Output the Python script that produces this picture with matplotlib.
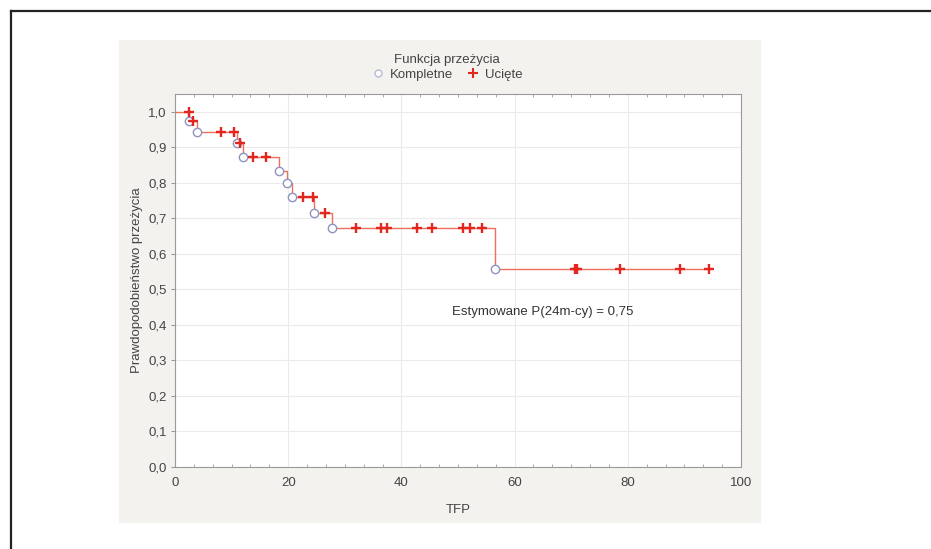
import numpy as np
import matplotlib
matplotlib.use("Agg")
import matplotlib.pyplot as plt
from matplotlib.lines import Line2D
from matplotlib.patches import Rectangle
from matplotlib.ticker import MultipleLocator, FuncFormatter

plt.rcParams['font.family'] = ['Liberation Sans', 'DejaVu Sans']

# Kaplan-Meier: zdarzenia (kompletne) i obserwacje ucięte
event_t = [2.5, 3.8, 10.9, 12.1, 18.4, 19.7, 20.7, 24.6, 27.7, 56.5]
event_s = [0.973, 0.942, 0.912, 0.874, 0.834, 0.799, 0.761, 0.716, 0.674, 0.558]
cens_t = [2.5, 3.2, 8.2, 10.5, 11.4, 13.7, 16.1, 22.7, 24.3, 26.5, 31.9,
          36.4, 37.5, 42.7, 45.4, 50.9, 52.2, 54.2, 70.6, 71.0, 78.6, 89.2, 94.3]

title = "Funkcja przeżycia"
ylab = "Prawdopodobieństwo przeżycia"
xlab = "TFP"
note = "Estymowane P(24m-cy) = 0,75"

line_col = "#ef6f5c"
plus_col = "#e3261e"
circ_col = "#8f93bf"

fig = plt.figure(figsize=(9.31, 5.49), dpi=100)

# grey panel behind the chart
fig.patches.append(Rectangle((119/931, 26/549), 642/931, 483/549,
                             transform=fig.transFigure, facecolor="#f4f2ee",
                             edgecolor="none", zorder=-10))
# page frame (top and left only)
fig.lines.append(Line2D([11/931, 1.0], [1-11/549, 1-11/549], transform=fig.transFigure,
                        color="#222222", lw=1.6))
fig.lines.append(Line2D([11/931, 11/931], [0.0, 1-11/549], transform=fig.transFigure,
                        color="#222222", lw=1.6))

ax = fig.add_axes([175/931, 82/549, 566/931, 373/549])
ax.set_facecolor("white")

# step curve
st = np.concatenate([[0], event_t, [max(cens_t)]])
ss = np.concatenate([[1.0], event_s, [event_s[-1]]])
ax.step(st, ss, where="post", color=line_col, lw=1.0, zorder=2)

# censored points sit on the curve
surv = np.concatenate([[1.0], event_s])
cens_s = surv[np.searchsorted(event_t, cens_t, side="left")]

ax.plot(event_t, event_s, ls="none", marker="o", ms=6, mfc="white",
        mec=circ_col, mew=1.0, zorder=3)
ax.plot(cens_t, cens_s, ls="none", marker="+", ms=7.5, mec=plus_col, mew=1.7, zorder=4)

ax.set_xlim(0, 100)
ax.set_ylim(0, 1.05)
ax.xaxis.set_major_locator(MultipleLocator(20))
ax.yaxis.set_major_locator(MultipleLocator(0.1))
ax.xaxis.set_minor_locator(MultipleLocator(20/6))
ax.yaxis.set_major_formatter(FuncFormatter(lambda v, p: f"{v:.1f}".replace(".", ",")))
ax.grid(True, which="major", color="#ebebeb", lw=0.8)
ax.set_axisbelow(True)
for s in ax.spines.values():
    s.set_color("#9a9a9a")
    s.set_linewidth(0.8)
ax.tick_params(axis="both", which="major", labelsize=9.5, colors="#9a9a9a",
               labelcolor="#444444", length=3, width=0.8, pad=3)
ax.tick_params(axis="x", which="major", length=0, pad=7)
ax.tick_params(axis="x", which="minor", direction="in", length=2, color="#9a9a9a",
               top=True, bottom=True)

ax.set_xlabel(xlab, fontsize=9.5, color="#444444", labelpad=11)
ax.set_ylabel(ylab, fontsize=9.5, color="#444444", labelpad=4)

ax.text(49, 0.437, note, fontsize=9.5, color="#333333", va="center")

handles = [Line2D([], [], ls="none", marker="o", ms=5, mfc="white", mec="#b8bbd6", mew=1.0),
           Line2D([], [], ls="none", marker="+", ms=7, mec=plus_col, mew=1.5)]
leg = fig.legend(handles, ["Kompletne", "Ucięte"], title=title, ncol=2,
                 loc="upper center", bbox_to_anchor=(447/931, 1-45/549),
                 frameon=False, fontsize=9.5, title_fontsize=9.5,
                 handlelength=1.0, handletextpad=0.4, columnspacing=1.0,
                 borderpad=0.2, labelspacing=0.2)
for t in leg.get_texts():
    t.set_color("#444444")
leg.get_title().set_color("#444444")

fig.savefig("out.png", dpi=100)
